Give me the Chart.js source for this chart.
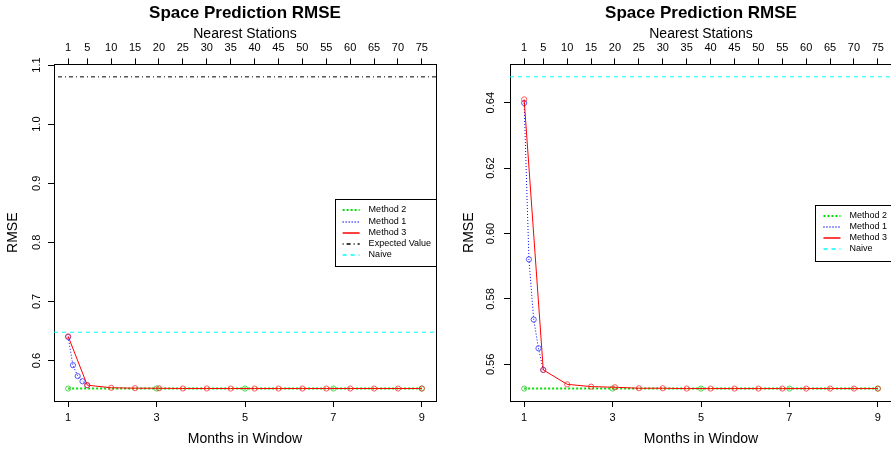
<!DOCTYPE html>
<html>
<head>
<meta charset="utf-8">
<script src="https://cdn.jsdelivr.net/npm/chart.js@4.4.1/dist/chart.umd.min.js"></script>
<style>
  html, body { margin: 0; padding: 0; background: #fff; }
  body { width: 891px; height: 450px; overflow: hidden; position: relative; }
  .panel { position: absolute; top: 0; }
</style>
</head>
<body>
<div class="panel" style="left:0"><canvas id="leftChart" width="457" height="450"></canvas></div>
<div class="panel" style="left:456px"><canvas id="rightChart" width="457" height="450"></canvas></div>
<script>
// bottom axis: months, top axis: nearest stations (both share the same pixel span)
const monthTicks = [1, 3, 5, 7, 9];
const stationTicks = [1, 5, 10, 15, 20, 25, 30, 35, 40, 45, 50, 55, 60, 65, 70, 75];

const method2Months = [1, 3, 5, 7, 9];
const method2Rmse = [0.5526, 0.5526, 0.5526, 0.5526, 0.5526];

const method1Stations = [1, 2, 3, 4, 5];
const method1Rmse = [0.6399, 0.5921, 0.5737, 0.5649, 0.5583];

const method3Stations = [1, 5, 10, 15, 20, 25, 30, 35, 40, 45, 50, 55, 60, 65, 70, 75];
const method3Rmse = [0.6410, 0.5583, 0.5539, 0.5532, 0.5530, 0.5527, 0.5527, 0.5526,
                     0.5526, 0.5526, 0.5526, 0.5526, 0.5526, 0.5526, 0.5526, 0.5526];

const expectedValue = 1.08;
const naiveRmse = 0.6479;

const leftYTicks = [0.6, 0.7, 0.8, 0.9, 1.0, 1.1];
const leftYLabels = ['0.6', '0.7', '0.8', '0.9', '1.0', '1.1'];
const rightYTicks = [0.56, 0.58, 0.60, 0.62, 0.64];
const rightYLabels = ['0.56', '0.58', '0.60', '0.62', '0.64'];

// axis limits (R style, 4% extension)
const monthMin = 0.68, monthMax = 9.32;
const perMonth = (75 - 1) / (9 - 1);
const stationMin = 1 + (monthMin - 1) * perMonth;
const stationMax = 1 + (monthMax - 1) * perMonth;

Chart.defaults.font.family = '"Liberation Sans", Arial, sans-serif';
Chart.defaults.color = '#000';

// legend box drawn inside the plot, right side, like R's legend("right")
const boxLegend = {
  id: 'boxLegend',
  afterDraw(chart) {
    const ctx = chart.ctx;
    const area = chart.chartArea;
    const items = chart.data.datasets;
    ctx.save();
    ctx.font = '9px "Liberation Sans", Arial, sans-serif';
    const textW = Math.max(...items.map(d => ctx.measureText(d.label).width));
    const w = 8 + 17 + 9 + textW + 5;
    const rowH = 11.1;
    const h = (items.length - 1) * rowH + 22.4;
    const x0 = area.right - w;
    const y0 = (area.top + area.bottom) / 2 - h / 2;
    ctx.fillStyle = '#fff';
    ctx.fillRect(x0, y0, w, h);
    ctx.strokeStyle = '#000';
    ctx.lineWidth = 1;
    ctx.setLineDash([]);
    ctx.strokeRect(Math.round(x0) + 0.5, Math.round(y0) + 0.5, Math.round(w), Math.round(h));
    items.forEach((d, i) => {
      const y = Math.round(y0 + 11.2 + i * rowH);
      ctx.strokeStyle = d.borderColor;
      ctx.lineWidth = Math.max(d.borderWidth, 1.5);
      ctx.setLineDash(d.borderDash || []);
      ctx.beginPath();
      ctx.moveTo(x0 + 8, y);
      ctx.lineTo(x0 + 25, y);
      ctx.stroke();
      ctx.setLineDash([]);
      ctx.fillStyle = '#000';
      ctx.textBaseline = 'middle';
      ctx.textAlign = 'left';
      ctx.fillText(d.label, x0 + 34, y);
    });
    ctx.restore();
  }
};

function pointsOf(xs, ys) {
  return xs.map((x, i) => ({ x: x, y: ys[i] }));
}

function makePanel(canvasId, yMin, yMax, yTicks, yLabels, yPad, withExpected) {
  const datasets = [
    {
      label: 'Method 2', xAxisID: 'x', yAxisID: 'y', order: 2,
      data: pointsOf(method2Months, method2Rmse),
      borderColor: '#00e000', borderWidth: 2, borderDash: [2, 2],
      pointRadius: 2.6, pointBorderWidth: 1, pointBorderColor: 'rgba(40,200,40,0.8)', pointBackgroundColor: 'rgba(0,0,0,0)'
    },
    {
      label: 'Method 1', xAxisID: 'x2', yAxisID: 'y', order: 1,
      data: pointsOf(method1Stations, method1Rmse),
      borderColor: '#0000ff', borderWidth: 1, borderDash: [1, 2],
      pointRadius: 2.6, pointBorderWidth: 1, pointBorderColor: 'rgba(40,40,255,0.75)', pointBackgroundColor: 'rgba(0,0,0,0)'
    },
    {
      label: 'Method 3', xAxisID: 'x2', yAxisID: 'y', order: 0,
      data: pointsOf(method3Stations, method3Rmse),
      borderColor: '#ff0000', borderWidth: 1, borderDash: [],
      pointRadius: 2.6, pointBorderWidth: 1, pointBorderColor: 'rgba(255,40,40,0.75)', pointBackgroundColor: 'rgba(0,0,0,0)'
    }
  ];
  if (withExpected) {
    datasets.push({
      label: 'Expected Value', xAxisID: 'x', yAxisID: 'y', order: 3,
      data: pointsOf([monthMin, monthMax], [expectedValue, expectedValue]),
      borderColor: '#000000', borderWidth: 1, borderDash: [1, 3, 4, 3], pointRadius: 0
    });
  }
  datasets.push({
    label: 'Naive', xAxisID: 'x', yAxisID: 'y', order: 4,
    data: pointsOf([monthMin, monthMax], [naiveRmse, naiveRmse]),
    borderColor: '#00ffff', borderWidth: 1, borderDash: [4, 4], pointRadius: 0
  });

  return new Chart(document.getElementById(canvasId), {
    type: 'line',
    data: { datasets: datasets },
    plugins: [boxLegend],
    options: {
      responsive: false,
      animation: false,
      layout: { padding: { left: 0, right: 21, top: 0, bottom: 0 } },
      plugins: {
        legend: { display: false },
        tooltip: { enabled: false },
        title: {
          display: true,
          text: 'Space Prediction RMSE',
          fullSize: false,
          color: '#000',
          font: { size: 17, weight: 'bold' },
          padding: { top: 3, bottom: 0 }
        }
      },
      scales: {
        x: {
          type: 'linear', position: 'bottom', min: monthMin, max: monthMax,
          afterBuildTicks: s => { s.ticks = monthTicks.map(v => ({ value: v })); },
          afterFit: s => { s.height = 49; },
          ticks: { font: { size: 11 }, color: '#000', padding: 4, maxRotation: 0, autoSkip: false,
                   callback: (v, i) => String(monthTicks[i]) },
          grid: { drawOnChartArea: false, color: '#000', tickLength: 6 },
          border: { color: '#000' },
          title: { display: true, text: 'Months in Window', color: '#000',
                   font: { size: 14 }, padding: { top: 0, bottom: 2.4 } }
        },
        x2: {
          type: 'linear', position: 'top', min: stationMin, max: stationMax,
          afterBuildTicks: s => { s.ticks = stationTicks.map(v => ({ value: v })); },
          afterFit: s => { s.height = 41; },
          ticks: { font: { size: 11 }, color: '#000', padding: 4, maxRotation: 0, autoSkip: false,
                   callback: (v, i) => String(stationTicks[i]) },
          grid: { drawOnChartArea: false, color: '#000', tickLength: 6 },
          border: { color: '#000' },
          title: { display: true, text: 'Nearest Stations', color: '#000',
                   font: { size: 14 }, padding: { top: 2.6, bottom: 0 } }
        },
        y: {
          type: 'linear', position: 'left', min: yMin, max: yMax,
          afterBuildTicks: s => { s.ticks = yTicks.map(v => ({ value: v })); },
          afterFit: s => { s.width = 54; },
          ticks: { font: { size: 11 }, color: '#000', padding: yPad, minRotation: 90, maxRotation: 90,
                   crossAlign: 'center', autoSkip: false, callback: (v, i) => yLabels[i] },
          grid: { drawOnChartArea: false, color: '#000', tickLength: 6 },
          border: { color: '#000' },
          title: { display: true, text: 'RMSE', color: '#000',
                   font: { size: 14 }, padding: { top: 4.4, bottom: 0 } }
        },
        yr: {
          type: 'linear', position: 'right', min: 0, max: 1,
          afterFit: s => { s.width = 0; },
          ticks: { display: false },
          grid: { drawOnChartArea: false, drawTicks: false },
          border: { color: '#000' }
        }
      }
    }
  });
}

makePanel('leftChart', 0.5315, 1.1011, leftYTicks, leftYLabels, 3.7, true);
makePanel('rightChart', 0.5488, 0.6517, rightYTicks, rightYLabels, 2.1, false);
</script>
</body>
</html>
